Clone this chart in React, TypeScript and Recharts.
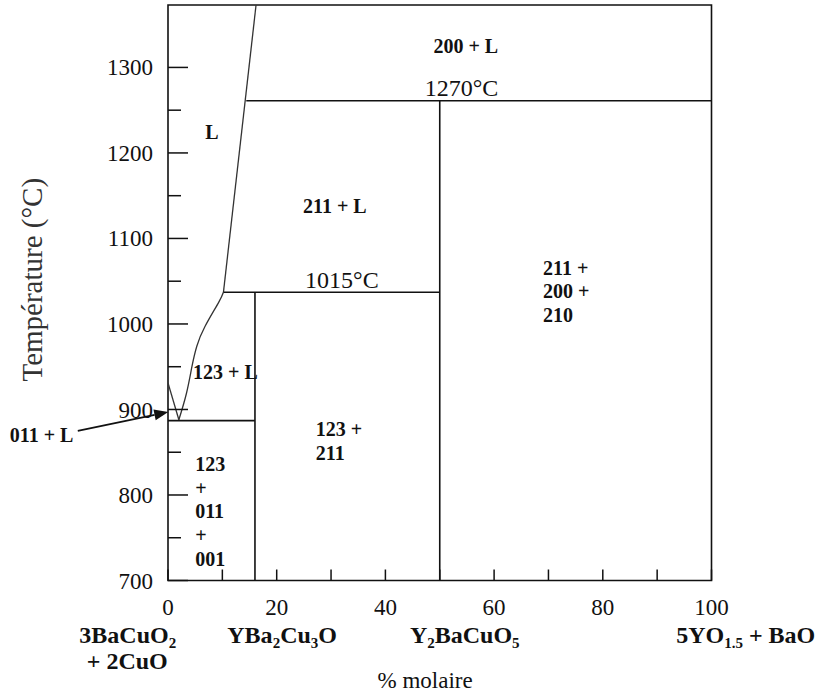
import React from 'react';
import {
  ComposedChart,
  Line,
  XAxis,
  YAxis,
  ReferenceArea,
  ReferenceLine,
  ReferenceDot,
} from 'recharts';

// ---- axes ----
const xTicks = [0, 10, 20, 30, 40, 50, 60, 70, 80, 90, 100];
const yTicks = [700, 750, 800, 850, 900, 950, 1000, 1050, 1100, 1150, 1200, 1250, 1300];
const xDomain = [0, 100];
const yDomain = [700, 1373];

// ---- phase boundaries (x = % molaire, t = °C) ----
const liquidusUpper = [
  { x: 10.2, t: 1037 },
  { x: 16.2, t: 1373 },
];
const liquidusCurve = [
  { x: 2.0, t: 888 },
  { x: 3.4, t: 919 },
  { x: 4.4, t: 950 },
  { x: 5.3, t: 974 },
  { x: 6.8, t: 997 },
  { x: 9.3, t: 1025 },
  { x: 10.2, t: 1037 },
];
const eutecticArm = [
  { x: 0, t: 931 },
  { x: 2.0, t: 888 },
];
const isotherm1270 = [
  { x: 14.4, t: 1261 },
  { x: 100, t: 1261 },
];
const isotherm1015 = [
  { x: 10.2, t: 1037 },
  { x: 50, t: 1037 },
];
const eutecticLine = [
  { x: 0, t: 887 },
  { x: 16, t: 887 },
];
const line123 = [
  { x: 16, t: 700 },
  { x: 16, t: 1037 },
];
const line211 = [
  { x: 50, t: 700 },
  { x: 50, t: 1261 },
];

const boundaries = [
  liquidusUpper,
  liquidusCurve,
  eutecticArm,
  isotherm1270,
  isotherm1015,
  eutecticLine,
  line123,
  line211,
];

// ---- labels ----
const regionLabels = [
  { lines: ['200 + L'], x: 54.8, t: 1325, anchor: 'middle' },
  { lines: ['L'], x: 8.1, t: 1224, anchor: 'middle' },
  { lines: ['211 + L'], x: 30.7, t: 1138, anchor: 'middle' },
  { lines: ['211 +', '200 +', '210'], x: 69.0, t: 1066, anchor: 'start' },
  { lines: ['123 + L'], x: 4.6, t: 944, anchor: 'start' },
  { lines: ['123 +', '211'], x: 27.2, t: 877, anchor: 'start' },
  { lines: ['123', '+', '011', '+', '001'], x: 5.0, t: 836, anchor: 'start' },
  { lines: ['011 + L'], x: -29.1, t: 870, anchor: 'start' },
];
const isothermLabels = [
  { text: '1270°C', x: 54.0, t: 1276 },
  { text: '1015°C', x: 32.0, t: 1052 },
];
const arrowFrom = { x: -16.6, t: 875 };
const arrowTo = { x: 0.05, t: 897 };

const compoundLabels = [
  { parts: [['3BaCuO', ''], ['2', 'sub']], x: -7.4, t: 627 },
  { parts: [['+ 2CuO', '']], x: -7.5, t: 596 },
  { parts: [['YBa', ''], ['2', 'sub'], ['Cu', ''], ['3', 'sub'], ['O', '']], x: 21.0, t: 627 },
  { parts: [['Y', ''], ['2', 'sub'], ['BaCuO', ''], ['5', 'sub']], x: 54.6, t: 627 },
  { parts: [['5YO', ''], ['1.5', 'sub'], [' + BaO', '']], x: 106.3, t: 627 },
];
const xTitle = { text: '% molaire', x: 47.3, t: 584 };
const yTitle = 'Température (°C)';

const FONT = '"Liberation Serif", "Times New Roman", serif';
const INK = '#111';

const YTick = (props: any) => {
  const { x, y, payload } = props;
  const major = payload.value % 100 === 0;
  return (
    <g>
      <line x1={x} x2={x + (major ? 20 : 13)} y1={y} y2={y} stroke={INK} strokeWidth={1.5} />
      {major && (
        <text x={x - 15} y={y} dy="0.35em" textAnchor="end" fontFamily={FONT} fontSize={23} fill={INK}>
          {payload.value}
        </text>
      )}
    </g>
  );
};

const XTick = (props: any) => {
  const { x, y, payload } = props;
  const major = payload.value % 20 === 0;
  return (
    <g>
      <line x1={x} x2={x} y1={y} y2={y - 11} stroke={INK} strokeWidth={1.5} />
      {major && (
        <text x={x} y={y + 26} dy="0.35em" textAnchor="middle" fontFamily={FONT} fontSize={23} fill={INK}>
          {payload.value}
        </text>
      )}
    </g>
  );
};

const YTitle = (props: any) => {
  const vb = props.viewBox || { x: 0, y: 0, width: 0, height: 0 };
  const cx = vb.x + vb.width - 136;
  const cy = vb.y + vb.height / 2 - 13;
  return (
    <text
      x={cx}
      y={cy}
      transform={`rotate(-90 ${cx} ${cy})`}
      textAnchor="middle"
      dy="0.35em"
      fontFamily={FONT}
      fontSize={29}
      fill="#333"
    >
      {yTitle}
    </text>
  );
};

const ArrowShape = (p: any) => {
  const { x1, y1, x2, y2 } = p;
  const ang = Math.atan2(y2 - y1, x2 - x1);
  const L = 14;
  const W = 5.5;
  const bx = x2 - L * Math.cos(ang);
  const by = y2 - L * Math.sin(ang);
  const s = Math.sin(ang);
  const c = Math.cos(ang);
  const pts = `${x2},${y2} ${bx - W * s},${by + W * c} ${bx + W * s},${by - W * c}`;
  return (
    <g>
      <line x1={x1} y1={y1} x2={bx} y2={by} stroke={INK} strokeWidth={1.6} />
      <polygon points={pts} fill={INK} />
    </g>
  );
};

const multiLine = (lines: string[], anchor: string) => (p: any) => (
  <text x={p.cx} y={p.cy} textAnchor={anchor} fontFamily={FONT} fontWeight="bold" fontSize={20} fill={INK}>
    {lines.map((l, i) => (
      <tspan key={i} x={p.cx} dy={i === 0 ? '0.35em' : '1.18em'}>
        {l}
      </tspan>
    ))}
  </text>
);

const plainText = (text: string, size: number) => (p: any) => (
  <text x={p.cx} y={p.cy} dy="0.35em" textAnchor="middle" fontFamily={FONT} fontSize={size} fill={INK}>
    {text}
  </text>
);

const compoundText = (parts: string[][]) => (p: any) => (
  <text x={p.cx} y={p.cy} dy="0.35em" textAnchor="middle" fontFamily={FONT} fontWeight="bold" fontSize={24} fill={INK}>
    {parts.map(([s, kind], i) => {
      const prevSub = i > 0 && parts[i - 1][1] === 'sub';
      if (kind === 'sub') {
        return (
          <tspan key={i} dy={5} fontSize={15}>
            {s}
          </tspan>
        );
      }
      return (
        <tspan key={i} dy={prevSub ? -5 : 0}>
          {s}
        </tspan>
      );
    })}
  </text>
);

export default function App() {
  return (
    <div style={{ position: 'absolute', left: 0, top: 0, width: 822, height: 694, background: '#fff' }}>
      <ComposedChart width={822} height={694} margin={{ top: 5, right: 110.5, bottom: 83.5, left: 108 }}>
        <XAxis
          type="number"
          dataKey="x"
          domain={xDomain}
          ticks={xTicks}
          interval={0}
          allowDataOverflow
          height={30}
          tickSize={0}
          tickMargin={0}
          tickLine={false}
          axisLine={false}
          tick={<XTick />}
        />
        <YAxis
          type="number"
          dataKey="t"
          domain={yDomain}
          ticks={yTicks}
          interval={0}
          allowDataOverflow
          width={60}
          tickSize={0}
          tickMargin={0}
          tickLine={false}
          axisLine={false}
          tick={<YTick />}
          label={<YTitle />}
        />
        <ReferenceArea
          x1={xDomain[0]}
          x2={xDomain[1]}
          y1={yDomain[0]}
          y2={yDomain[1]}
          fill="none"
          fillOpacity={0}
          stroke={INK}
          strokeWidth={1.6}
          ifOverflow="visible"
        />
        {boundaries.map((d, i) => (
          <Line
            key={i}
            data={d}
            dataKey="t"
            type={d === liquidusCurve ? 'natural' : 'linear'}
            stroke={d === liquidusCurve || d === liquidusUpper || d === eutecticArm ? '#333' : INK}
            strokeWidth={d === liquidusCurve || d === liquidusUpper || d === eutecticArm ? 1.3 : 1.6}
            dot={false}
            activeDot={false}
            isAnimationActive={false}
            legendType="none"
          />
        ))}
        <ReferenceLine
          segment={[
            { x: arrowFrom.x, y: arrowFrom.t },
            { x: arrowTo.x, y: arrowTo.t },
          ]}
          ifOverflow="visible"
          shape={ArrowShape}
        />
        {regionLabels.map((l, i) => (
          <ReferenceDot
            key={'r' + i}
            x={l.x}
            y={l.t}
            r={0}
            ifOverflow="visible"
            shape={multiLine(l.lines, l.anchor)}
          />
        ))}
        {isothermLabels.map((l, i) => (
          <ReferenceDot key={'i' + i} x={l.x} y={l.t} r={0} ifOverflow="visible" shape={plainText(l.text, 24)} />
        ))}
        {compoundLabels.map((l, i) => (
          <ReferenceDot key={'c' + i} x={l.x} y={l.t} r={0} ifOverflow="visible" shape={compoundText(l.parts)} />
        ))}
        <ReferenceDot x={xTitle.x} y={xTitle.t} r={0} ifOverflow="visible" shape={plainText(xTitle.text, 23)} />
      </ComposedChart>
    </div>
  );
}
